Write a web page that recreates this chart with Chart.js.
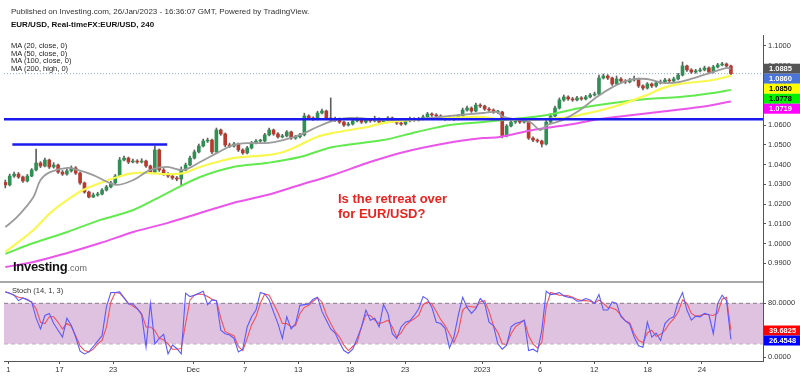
<!DOCTYPE html>
<html>
<head>
<meta charset="utf-8">
<title>EUR/USD 240</title>
<script src="https://cdn.jsdelivr.net/npm/chart.js@4.4.0/dist/chart.umd.min.js"></script>
<style>
    body { margin: 0; background: #fff; font-family: Arial, "Liberation Sans", sans-serif; }
    #wrap { position: relative; width: 800px; height: 376px; overflow: hidden; background: #fff; }
    canvas { position: absolute; left: 0; }
    #priceChart { top: 0; }
    #stochChart { top: 281px; }
    .txt { position: absolute; white-space: nowrap; line-height: 1; }
    #published { left: 11px; top: 8px; font-size: 8px; color: #333; }
    #symbol { left: 11px; top: 21px; font-size: 8px; font-weight: bold; color: #111; }
    #maLegend { left: 11px; top: 42px; font-size: 7.5px; line-height: 7.5px; color: #222; }
    #headline { left: 338px; top: 191px; font-size: 13px; line-height: 15px; font-weight: bold; color: #e8241d; }
    #logo { left: 13px; top: 260px; font-size: 13px; font-weight: bold; color: #111; letter-spacing: -0.3px; }
    #logo span { font-size: 9px; font-weight: normal; color: #666; letter-spacing: 0; }
    #stochTitle { left: 12px; top: 287px; font-size: 7.5px; color: #333; }
</style>
</head>
<body>
<div id="wrap">
    <canvas id="priceChart" width="800" height="282"></canvas>
    <canvas id="stochChart" width="800" height="95"></canvas>
    <div class="txt" id="published">Published on Investing.com, 26/Jan/2023 - 16:36:07 GMT, Powered by TradingView.</div>
    <div class="txt" id="symbol">EUR/USD, Real-timeFX:EUR/USD, 240</div>
    <div class="txt" id="maLegend">MA (20, close, 0)<br>MA (50, close, 0)<br>MA (100, close, 0)<br>MA (200, high, 0)</div>
    <div class="txt" id="headline">Is the retreat over<br>for EUR/USD?</div>
    <div class="txt" id="logo">Investing<span>.com</span></div>
    <div class="txt" id="stochTitle">Stoch (14, 1, 3)</div>
</div>
<script>
// 4h candles, shown every second bar (index = position on the time axis)
var firstOpen = 1.0310;
var closes = [
    1.0297, 1.0342, 1.0352, 1.0337, 1.0317, 1.0342, 1.0373, 1.0408, 1.0393, 1.0423,
    1.0388, 1.0398, 1.0362, 1.0352, 1.0368, 1.0383, 1.0357, 1.0307, 1.0261, 1.0236,
    1.0246, 1.0251, 1.0271, 1.0287, 1.0307, 1.0342, 1.0423, 1.0433, 1.0413, 1.0418,
    1.0413, 1.0418, 1.0393, 1.0362, 1.0474, 1.0373, 1.0352, 1.0342, 1.0332, 1.0327,
    1.0373, 1.0398, 1.0433, 1.0464, 1.0494, 1.0519, 1.0524, 1.0464, 1.0575, 1.0555,
    1.0499, 1.0494, 1.0504, 1.0474, 1.0459, 1.0484, 1.0509, 1.0519, 1.0519, 1.0550,
    1.0575, 1.0555, 1.0540, 1.0545, 1.0565, 1.0534, 1.0540, 1.0550, 1.0646, 1.0636,
    1.0631, 1.0661, 1.0671, 1.0636, 1.0626, 1.0631, 1.0615, 1.0600, 1.0605, 1.0621,
    1.0631, 1.0615, 1.0626, 1.0621, 1.0631, 1.0615, 1.0626, 1.0636, 1.0621, 1.0610,
    1.0605, 1.0621, 1.0631, 1.0626, 1.0631, 1.0641, 1.0656, 1.0651, 1.0646, 1.0636,
    1.0631, 1.0636, 1.0631, 1.0646, 1.0676, 1.0686, 1.0671, 1.0701, 1.0696, 1.0681,
    1.0676, 1.0666, 1.0666, 1.0545, 1.0595, 1.0615, 1.0621, 1.0615, 1.0626, 1.0534,
    1.0524, 1.0519, 1.0504, 1.0615, 1.0646, 1.0686, 1.0727, 1.0742, 1.0732, 1.0727,
    1.0737, 1.0732, 1.0742, 1.0752, 1.0757, 1.0838, 1.0848, 1.0838, 1.0808, 1.0833,
    1.0823, 1.0818, 1.0828, 1.0833, 1.0798, 1.0787, 1.0808, 1.0798, 1.0813, 1.0818,
    1.0828, 1.0823, 1.0833, 1.0853, 1.0899, 1.0879, 1.0868, 1.0874, 1.0879, 1.0889,
    1.0868, 1.0894, 1.0904, 1.0909, 1.0899, 1.0860
];
var highs = [
    1.0322, 1.0352, 1.0362, 1.0360, 1.0342, 1.0350, 1.0380, 1.0479, 1.0415, 1.0433,
    1.0428, 1.0410, 1.0403, 1.0370, 1.0378, 1.0393, 1.0390, 1.0362, 1.0312, 1.0266,
    1.0256, 1.0260, 1.0278, 1.0295, 1.0315, 1.0350, 1.0436, 1.0443, 1.0438, 1.0428,
    1.0425, 1.0430, 1.0423, 1.0398, 1.0494, 1.0479, 1.0380, 1.0360, 1.0350, 1.0340,
    1.0388, 1.0408, 1.0443, 1.0474, 1.0504, 1.0529, 1.0534, 1.0529, 1.0585, 1.0580,
    1.0560, 1.0508, 1.0512, 1.0509, 1.0480, 1.0492, 1.0517, 1.0527, 1.0528, 1.0558,
    1.0585, 1.0580, 1.0562, 1.0553, 1.0572, 1.0570, 1.0548, 1.0558, 1.0660, 1.0652,
    1.0642, 1.0670, 1.0681, 1.0676, 1.0737, 1.0640, 1.0636, 1.0620, 1.0614, 1.0628,
    1.0640, 1.0636, 1.0634, 1.0632, 1.0645, 1.0636, 1.0633, 1.0643, 1.0641, 1.0626,
    1.0617, 1.0628, 1.0640, 1.0637, 1.0639, 1.0650, 1.0664, 1.0662, 1.0658, 1.0652,
    1.0642, 1.0645, 1.0642, 1.0654, 1.0686, 1.0696, 1.0692, 1.0711, 1.0708, 1.0701,
    1.0688, 1.0682, 1.0675, 1.0670, 1.0603, 1.0623, 1.0630, 1.0628, 1.0634, 1.0630,
    1.0540, 1.0530, 1.0524, 1.0625, 1.0656, 1.0696, 1.0737, 1.0752, 1.0748, 1.0740,
    1.0745, 1.0744, 1.0750, 1.0760, 1.0767, 1.0853, 1.0858, 1.0855, 1.0843, 1.0848,
    1.0840, 1.0830, 1.0836, 1.0848, 1.0838, 1.0803, 1.0815, 1.0813, 1.0820, 1.0828,
    1.0836, 1.0835, 1.0842, 1.0862, 1.0919, 1.0904, 1.0885, 1.0882, 1.0888, 1.0898,
    1.0894, 1.0902, 1.0912, 1.0917, 1.0914, 1.0904
];
var lows = [
    1.0282, 1.0292, 1.0335, 1.0330, 1.0310, 1.0312, 1.0338, 1.0368, 1.0385, 1.0388,
    1.0380, 1.0382, 1.0355, 1.0345, 1.0347, 1.0362, 1.0350, 1.0300, 1.0255, 1.0231,
    1.0233, 1.0240, 1.0246, 1.0266, 1.0282, 1.0302, 1.0338, 1.0418, 1.0405, 1.0408,
    1.0406, 1.0408, 1.0386, 1.0355, 1.0357, 1.0365, 1.0345, 1.0335, 1.0325, 1.0318,
    1.0297, 1.0368, 1.0393, 1.0428, 1.0459, 1.0489, 1.0512, 1.0455, 1.0459, 1.0548,
    1.0490, 1.0486, 1.0488, 1.0466, 1.0452, 1.0454, 1.0479, 1.0504, 1.0512, 1.0514,
    1.0545, 1.0548, 1.0533, 1.0535, 1.0540, 1.0527, 1.0528, 1.0535, 1.0545, 1.0630,
    1.0624, 1.0626, 1.0656, 1.0628, 1.0620, 1.0618, 1.0608, 1.0593, 1.0595, 1.0600,
    1.0616, 1.0608, 1.0610, 1.0614, 1.0616, 1.0608, 1.0610, 1.0621, 1.0614, 1.0603,
    1.0598, 1.0600, 1.0616, 1.0619, 1.0620, 1.0626, 1.0636, 1.0644, 1.0639, 1.0629,
    1.0624, 1.0625, 1.0624, 1.0626, 1.0641, 1.0670, 1.0664, 1.0666, 1.0688, 1.0674,
    1.0669, 1.0659, 1.0658, 1.0535, 1.0540, 1.0590, 1.0608, 1.0608, 1.0610, 1.0527,
    1.0516, 1.0512, 1.0489, 1.0499, 1.0610, 1.0641, 1.0681, 1.0720, 1.0725, 1.0720,
    1.0722, 1.0725, 1.0727, 1.0737, 1.0747, 1.0752, 1.0833, 1.0830, 1.0800, 1.0803,
    1.0815, 1.0810, 1.0813, 1.0822, 1.0790, 1.0778, 1.0782, 1.0790, 1.0792, 1.0808,
    1.0813, 1.0815, 1.0818, 1.0828, 1.0848, 1.0871, 1.0861, 1.0862, 1.0869, 1.0874,
    1.0860, 1.0863, 1.0889, 1.0899, 1.0892, 1.0855
];

// moving averages, read as [bar index, price]
var ma20 = [[0, 1.0084], [2.7, 1.0135], [6.4, 1.0236], [8, 1.0322], [10.2, 1.0362], [14.1, 1.0383],
    [16.4, 1.0373], [20, 1.0347], [23.2, 1.0312], [25.5, 1.0297], [29.1, 1.0322], [33, 1.0373],
    [36.8, 1.0388], [40.5, 1.0373], [44.3, 1.0413], [48.2, 1.0459], [51.8, 1.0499], [55.7, 1.0509],
    [59.5, 1.0509], [63.2, 1.0524], [67, 1.0550], [70.9, 1.0590], [74.5, 1.0621], [78.4, 1.0636],
    [85.9, 1.0626], [93.6, 1.0631], [101.1, 1.0646], [108.6, 1.0661], [111.8, 1.0666], [113.2, 1.0641],
    [119.3, 1.0615], [121.6, 1.0575], [123.2, 1.0600], [126.8, 1.0626], [130.7, 1.0676], [134.5, 1.0742],
    [138.2, 1.0793], [142, 1.0828], [145.9, 1.0833], [149.5, 1.0813], [153.4, 1.0818], [157.3, 1.0843],
    [160.9, 1.0868], [164.1, 1.0889], [165, 1.0885]];
var ma50 = [[0, 0.9958], [6.4, 1.0069], [10.2, 1.0155], [14.1, 1.0221], [17.7, 1.0271], [21.6, 1.0307],
    [25.5, 1.0337], [29.1, 1.0357], [33, 1.0357], [36.8, 1.0352], [40.5, 1.0357], [44.3, 1.0388],
    [48.2, 1.0413], [51.8, 1.0433], [59.5, 1.0448], [63.2, 1.0464], [67, 1.0499], [70.9, 1.0540],
    [74.5, 1.0560], [82.3, 1.0590], [85.9, 1.0610], [92.7, 1.0626], [100.5, 1.0636], [108, 1.0641],
    [111.8, 1.0631], [119.3, 1.0626], [126.8, 1.0636], [130.7, 1.0651], [138.2, 1.0691], [145.9, 1.0752],
    [149.5, 1.0787], [153.4, 1.0808], [160.9, 1.0828], [165, 1.0850]];
var ma100 = [[0, 0.9948], [6.4, 1.0003], [14.1, 1.0059], [21.6, 1.0120], [29.1, 1.0170], [36.8, 1.0256],
    [44.3, 1.0337], [51.8, 1.0388], [59.5, 1.0408], [67, 1.0438], [74.5, 1.0489], [85.9, 1.0524],
    [93.6, 1.0565], [101.1, 1.0600], [108.6, 1.0615], [115.5, 1.0631], [123.2, 1.0651], [130.7, 1.0686],
    [138.2, 1.0712], [145.9, 1.0732], [153.4, 1.0742], [160.9, 1.0762], [165, 1.0778]];
var ma200 = [[0, 0.9882], [6.4, 0.9907], [14.1, 0.9953], [21.6, 1.0003], [29.1, 1.0059], [36.8, 1.0104],
    [44.3, 1.0155], [51.8, 1.0206], [59.5, 1.0246], [67, 1.0297], [74.5, 1.0347], [82.3, 1.0408],
    [89.8, 1.0459], [100.5, 1.0509], [108.6, 1.0534], [112.5, 1.0540], [120, 1.0575], [127.7, 1.0600],
    [135.2, 1.0631], [142.7, 1.0651], [150.5, 1.0671], [158, 1.0691], [165, 1.0719]];

// drawn horizontal levels: [price, from bar, to bar]
var levelLong = [1.0629, -0.3, 172.3];
var levelShort = [1.0501, 1.6, 36.8];
var lastPrice = 1.0860;

// stochastic %K (blue) and %D (red), one value per bar
var stochK = [
    97, 95, 92, 84, 88, 85, 82, 58, 42, 62, 65, 50, 40, 30, 58, 47, 30, 9, 5, 8,
    16, 24, 32, 75, 96, 96, 97, 88, 79, 79, 72, 63, 15, 80, 20, 28, 34, 5, 18, 13,
    5, 95, 90, 92, 95, 98, 78, 85, 84, 40, 35, 33, 28, 8, 12, 45, 60, 70, 96, 94,
    85, 67, 50, 28, 60, 42, 50, 77, 78, 79, 86, 89, 68, 55, 42, 36, 22, 10, 6, 12,
    28, 45, 70, 55, 58, 45, 78, 65, 35, 28, 45, 52, 54, 62, 72, 90, 86, 74, 52, 50,
    43, 14, 30, 62, 89, 74, 65, 72, 87, 80, 52, 47, 20, 12, 18, 45, 50, 52, 55, 10,
    12, 8, 40, 98, 93, 94, 96, 91, 89, 88, 83, 84, 87, 85, 80, 93, 70, 70, 82, 80,
    60, 54, 49, 30, 17, 15, 52, 30, 36, 25, 50, 57, 60, 82, 96, 70, 55, 61, 60, 65,
    63, 35, 80, 92, 84, 26.4548
];
var stochD = [
    97, 95, 92, 89, 88, 86, 81, 72, 52, 50, 60, 60, 52, 42, 50, 46, 32, 17, 10, 8,
    12, 20, 25, 45, 82, 96, 95, 88, 80, 76, 72, 65, 45, 45, 40, 28, 26, 20, 12, 12,
    13, 50, 85, 92, 94, 93, 90, 86, 84, 58, 38, 35, 32, 16, 10, 28, 48, 60, 80, 94,
    92, 79, 66, 50, 50, 45, 47, 65, 74, 77, 83, 88, 82, 63, 50, 38, 30, 18, 10, 16,
    22, 45, 63, 62, 55, 50, 52, 55, 45, 30, 36, 47, 53, 57, 62, 78, 82, 79, 68, 56,
    47, 35, 22, 37, 70, 76, 75, 74, 82, 84, 68, 47, 37, 20, 19, 35, 45, 50, 55, 32,
    20, 14, 22, 75, 96, 94, 92, 92, 91, 89, 86, 84, 84, 83, 80, 85, 80, 74, 73, 70,
    62, 54, 51, 35, 25, 22, 36, 40, 31, 34, 40, 50, 57, 67, 85, 80, 65, 61, 62, 64,
    63, 62, 66, 86, 89, 39.6825
];
var stochBand = [20, 80];
var stochTicks = [0, 80];

// axis
var priceTicks = [0.99, 1.00, 1.01, 1.02, 1.03, 1.04, 1.05, 1.06, 1.07, 1.08, 1.09, 1.10];
var timeTickPos = [0.7, 12.3, 24.5, 42.7, 54.5, 66.6, 78.4, 90.9, 108.4, 121.6, 133.9, 146.1, 158.4];
var timeTickLabels = ['1', '17', '23', 'Dec', '7', '13', '18', '23', '2023', '6', '12', '18', '24'];

var xMin = -0.3, xMax = 172.3;
var priceMin = 0.9811, priceMax = 1.10556;
var stochMin = -5.5, stochMax = 111.6;

var upColor = '#2f8f55';
var downColor = '#b83a2f';
var wickColor = '#5f5f5f';
var axisColor = '#555555';
var labelFont = { family: 'Arial', size: 7.5 };

function toPoints(pairs) {
    return pairs.map(function (p) { return { x: p[0], y: p[1] }; });
}

function levelPoints(level) {
    return [{ x: level[1], y: level[0] }, { x: level[2], y: level[0] }];
}

//Keep the axis from shrinking the plot to make room for half of the end labels.
function fixAxisWidth(scale) {
    scale.width = 37;
    scale.paddingTop = 0;
    scale.paddingBottom = 0;
}

// boxes on the price axis, pushed down so they do not overlap
function drawValueBoxes(chart, scaleId, boxes) {
    var ctx = chart.ctx;
    var scale = chart.scales[scaleId];
    var left = chart.chartArea.right + 1;
    var items = boxes.map(function (b) {
        return { box: b, y: scale.getPixelForValue(b.value) };
    });
    items.sort(function (a, b) { return a.y - b.y; });
    var lastY = -1000;
    ctx.save();
    ctx.font = 'bold 7.5px Arial';
    ctx.textBaseline = 'middle';
    items.forEach(function (item) {
        var y = Math.max(item.y, lastY + 10);
        lastY = y;
        ctx.fillStyle = item.box.bg;
        ctx.fillRect(left, y - 5, chart.width - left, 10);
        ctx.fillStyle = item.box.fg;
        ctx.fillText(item.box.value.toFixed(4), left + 5, y + 0.5);
    });
    ctx.restore();
}

function GeneratePriceChart() {
    var wickData = [];
    var bodyData = [];
    var bodyColors = [];

    for (let i = 0; i < closes.length; i++) {
        var open = i === 0 ? firstOpen : closes[i - 1];
        wickData.push({ x: i, y: [lows[i], highs[i]] });
        bodyData.push({ x: i, y: [open, closes[i]] });
        bodyColors.push(closes[i] >= open ? upColor : downColor);
    }

    var priceBoxes = [
        { value: ma20[ma20.length - 1][1], bg: '#555555', fg: '#ffffff' },
        { value: lastPrice, bg: '#4a74d6', fg: '#ffffff' },
        { value: ma50[ma50.length - 1][1], bg: '#ffff00', fg: '#000000' },
        { value: ma100[ma100.length - 1][1], bg: '#00f000', fg: '#000000' },
        { value: ma200[ma200.length - 1][1], bg: '#ff00ff', fg: '#ffffff' }
    ];

    new Chart(document.getElementById('priceChart'), {
        type: 'bar',
        data: {
            datasets: [
                { type: 'line', data: levelPoints(levelLong), borderColor: '#1a1aee', borderWidth: 2.5, pointRadius: 0, order: 0 },
                { type: 'line', data: levelPoints(levelShort), borderColor: '#1a1aee', borderWidth: 2.5, pointRadius: 0, order: 0 },
                { type: 'line', data: toPoints(ma20), borderColor: '#9b9b9b', borderWidth: 1.8, pointRadius: 0, tension: 0.35, order: 1 },
                { type: 'line', data: toPoints(ma50), borderColor: '#f8f850', borderWidth: 2.2, pointRadius: 0, tension: 0.35, order: 2 },
                { type: 'line', data: toPoints(ma100), borderColor: '#62ea4e', borderWidth: 2, pointRadius: 0, tension: 0.35, order: 3 },
                { type: 'line', data: toPoints(ma200), borderColor: '#ea55ea', borderWidth: 2, pointRadius: 0, tension: 0.35, order: 3 },
                {
                    type: 'line',
                    data: [{ x: xMin, y: lastPrice }, { x: xMax, y: lastPrice }],
                    borderColor: '#8aa6e6', borderWidth: 1, borderDash: [1, 2], pointRadius: 0, order: 6
                },
                { data: wickData, backgroundColor: wickColor, barThickness: 1, grouped: false, order: 5 },
                { data: bodyData, backgroundColor: bodyColors, barThickness: 3, minBarLength: 1, grouped: false, order: 4 }
            ]
        },
        options: {
            responsive: false,
            animation: false,
            devicePixelRatio: 1,
            layout: { padding: { top: 35, left: 4, right: 0, bottom: 1 } },
            scales: {
                x: {
                    type: 'linear',
                    display: false,
                    min: xMin,
                    max: xMax,
                    offset: false
                },
                y: {
                    position: 'right',
                    min: priceMin,
                    max: priceMax,
                    afterFit: fixAxisWidth,
                    afterBuildTicks: function (scale) {
                        scale.ticks = priceTicks.map(function (v) { return { value: v }; });
                    },
                    grid: { drawOnChartArea: false, drawTicks: true, tickLength: 3, color: axisColor },
                    border: { color: axisColor, width: 1 },
                    ticks: {
                        color: '#333',
                        font: labelFont,
                        padding: 2,
                        callback: function (value) { return value.toFixed(4); }
                    }
                }
            },
            plugins: {
                legend: { display: false },
                tooltip: { enabled: false }
            }
        },
        plugins: [{
            id: 'priceBoxes',
            afterDraw: function (chart) { drawValueBoxes(chart, 'y', priceBoxes); }
        }]
    });
}

function GenerateStochChart() {
    var kData = [];
    var dData = [];

    for (let i = 0; i < stochK.length; i++) {
        kData.push({ x: i, y: stochK[i] });
        dData.push({ x: i, y: stochD[i] });
    }

    var stochBoxes = [
        { value: stochD[stochD.length - 1], bg: '#ff0000', fg: '#ffffff' },
        { value: stochK[stochK.length - 1], bg: '#0000ff', fg: '#ffffff' }
    ];

    new Chart(document.getElementById('stochChart'), {
        type: 'line',
        data: {
            datasets: [
                {
                    data: [{ x: xMin, y: stochBand[1] }, { x: xMax, y: stochBand[1] }],
                    borderColor: '#8a7a8c', borderWidth: 1, borderDash: [4, 3], pointRadius: 0,
                    fill: '+1', backgroundColor: '#dec2df', order: 3
                },
                {
                    data: [{ x: xMin, y: stochBand[0] }, { x: xMax, y: stochBand[0] }],
                    borderColor: '#8a7a8c', borderWidth: 1, borderDash: [4, 3], pointRadius: 0, order: 3
                },
                { data: dData, borderColor: '#f4505a', borderWidth: 1.1, pointRadius: 0, order: 2 },
                { data: kData, borderColor: '#5a5aff', borderWidth: 1.1, pointRadius: 0, order: 1 }
            ]
        },
        options: {
            responsive: false,
            animation: false,
            devicePixelRatio: 1,
            layout: { padding: { top: 1, left: 4, right: 0, bottom: 0 } },
            scales: {
                x: {
                    type: 'linear',
                    min: xMin,
                    max: xMax,
                    offset: false,
                    afterFit: function (scale) {
                        scale.height = 15;
                        scale.paddingLeft = 0;
                        scale.paddingRight = 0;
                    },
                    afterBuildTicks: function (scale) {
                        scale.ticks = timeTickPos.map(function (v) { return { value: v }; });
                    },
                    grid: { drawOnChartArea: false, drawTicks: true, tickLength: 3, color: axisColor },
                    border: { color: axisColor, width: 1 },
                    ticks: {
                        color: '#333',
                        font: labelFont,
                        padding: 1,
                        autoSkip: false,
                        maxRotation: 0,
                        callback: function (value, index) { return timeTickLabels[index]; }
                    }
                },
                y: {
                    position: 'right',
                    min: stochMin,
                    max: stochMax,
                    afterFit: fixAxisWidth,
                    afterBuildTicks: function (scale) {
                        scale.ticks = stochTicks.map(function (v) { return { value: v }; });
                    },
                    grid: { drawOnChartArea: false, drawTicks: true, tickLength: 3, color: axisColor },
                    border: { color: axisColor, width: 1 },
                    ticks: {
                        color: '#333',
                        font: labelFont,
                        padding: 2,
                        callback: function (value) { return value.toFixed(4); }
                    }
                }
            },
            plugins: {
                legend: { display: false },
                tooltip: { enabled: false }
            }
        },
        plugins: [{
            id: 'stochBoxes',
            afterDraw: function (chart) {
                var ctx = chart.ctx;
                //Separator between the two panes.
                ctx.save();
                ctx.fillStyle = '#a8a8a8';
                ctx.fillRect(0, 0, chart.chartArea.right, 2);
                ctx.restore();
                drawValueBoxes(chart, 'y', stochBoxes);
            }
        }]
    });
}

GeneratePriceChart();
GenerateStochChart();
</script>
</body>
</html>
